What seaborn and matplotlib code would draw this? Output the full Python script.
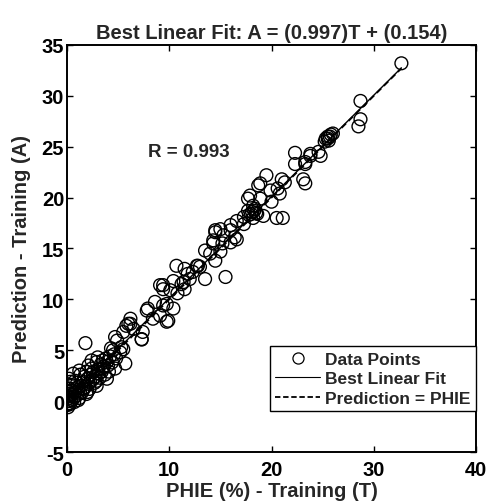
import matplotlib
matplotlib.use("Agg")
import matplotlib.pyplot as plt
import seaborn as sns
import numpy as np
import pandas as pd
from matplotlib.lines import Line2D

# ---- data ----
target_T = [
    32.7, 28.7, 28.7, 28.5,
    25.5, 25.8, 25.3, 26.0, 25.6, 25.2, 25.5, 25.7,
    24.6, 23.8, 23.3, 24.8,
    22.3, 23.8, 22.3, 23.3, 23.1, 23.3,
    19.5, 18.9, 21.0, 21.3, 19.9, 20.6, 20.8,
    17.9, 18.9, 20.0, 18.2, 17.7, 18.1, 18.6, 18.4, 19.2, 20.5, 21.1,
    17.3, 16.6, 17.3, 16.0, 15.0, 14.5, 15.3, 16.6, 14.3, 16.0,
    18.0, 18.3, 18.5, 17.8, 18.2, 18.7, 17.7,
    14.5, 16.0, 16.4, 14.3, 13.5, 15.0, 14.5, 15.5, 12.8, 10.7, 11.5, 12.3, 13.5,
    10.4, 11.4, 9.4, 11.5, 9.4, 10.1, 8.6, 7.9, 9.4, 10.4, 9.75, 9.1, 8.4, 9.9,
    6.2, 5.8, 6.5, 7.4, 5.5,
    12.7, 9.1, 7.8, 9.75, 6.0, 7.3, 4.7, 11.8, 12.0, 13.0, 14.0, 15.2, 10.8, 11.2,
    1.8, 6.2, 7.3, 4.9, 4.5, 5.2, 5.7, 4.7, 3.9, 2.9, 2.4, 3.5, 3.9, 1.9, 0.6, 0.3,
    2.25, 2.9, 1.6, 0.3, 0.0,
    0.1, 0.2, 0.4, 0.5, 0.7, 0.8, 1.0, 1.1, 1.3, 1.4, 1.6, 1.8, 2.0, 2.1, 2.3, 2.5,
    2.6, 2.8, 3.0, 3.1, 3.3, 3.4, 3.6, 3.8, 4.0, 4.2, 4.4, 4.6, 4.1, 0.0, 0.1, 0.2,
    0.3, 0.5, 0.6, 0.9, 1.2, 1.5, 1.7, 2.2, 2.4, 2.7, 3.2, 3.5, 0.0, 0.4, 0.8, 1.0,
    1.3, 2.0, 2.9, 3.7, 4.8, 5.3, 5.5, 0.1, 0.3, 0.7, 1.1, 1.9, 0.2, 1.2, 2.1, 3.0, 4.3,
]
prediction_A = [
    33.2, 29.5, 27.7, 27.0,
    26.0, 26.2, 25.8, 26.3, 25.6, 25.5, 25.8, 26.0,
    24.5, 24.1, 23.5, 24.1,
    24.4, 24.3, 23.3, 23.3, 21.8, 21.4,
    22.2, 21.4, 21.8, 21.5, 20.7, 20.9, 20.4,
    20.2, 19.9, 19.6, 19.2, 18.7, 18.6, 18.4, 18.9, 18.2, 18.0, 18.0,
    18.1, 17.7, 17.4, 17.3, 16.9, 16.8, 16.3, 15.9, 15.8, 15.6,
    18.4, 18.7, 18.5, 18.3, 18.0, 21.2, 19.9,
    16.6, 16.8, 16.1, 15.5, 14.8, 14.7, 13.8, 12.2, 13.3, 13.3, 13.0, 12.7, 12.0,
    11.8, 11.7, 11.4, 11.0, 11.0, 10.9, 9.75, 9.1, 9.4, 9.1, 9.55, 8.4, 8.1, 7.9,
    8.1, 7.4, 7.1, 6.8, 6.8,
    13.3, 11.4, 8.9, 7.8, 7.6, 6.1, 6.3, 12.5, 12.0, 13.2, 14.5, 15.5, 10.6, 11.5,
    5.7, 7.6, 6.05, 5.95, 5.0, 4.8, 3.7, 3.2, 3.85, 3.85, 4.0, 3.2, 2.2, 2.9, 2.7, 1.9,
    1.9, 1.5, 1.2, 0.7, -0.4,
    0.0, 0.3, 0.1, 0.6, 0.4, 0.9, 0.6, 1.1, 0.8, 1.5, 1.9, 1.4, 2.2, 1.7, 2.6, 2.1,
    2.9, 2.4, 3.1, 2.7, 3.6, 2.9, 3.4, 4.2, 3.5, 4.4, 3.8, 4.6, 2.9, 0.2, 0.5, -0.2,
    1.2, 1.0, 0.2, 1.3, 0.3, 0.9, 2.4, 1.2, 3.2, 1.8, 2.3, 4.0, 1.0, 1.6, 2.0, 1.8,
    2.6, 0.9, 2.0, 2.6, 4.2, 5.3, 5.1, -0.6, -0.3, -0.1, 0.1, 0.7, 2.2, 3.0, 3.5, 4.3, 5.2,
]
fit_slope = 0.997
fit_intercept = 0.154
r_value = 0.993
x_ticks = [0, 10, 20, 30, 40]
y_ticks = [-5, 0, 5, 10, 15, 20, 25, 30, 35]

df = pd.DataFrame({"T": target_T, "A": prediction_A})
line_x = np.array([min(target_T), max(target_T)])
lines = pd.DataFrame({
    "T": np.concatenate([line_x, line_x]),
    "A": np.concatenate([fit_slope * line_x + fit_intercept, line_x]),
    "kind": ["fit", "fit", "ident", "ident"],
})

sns.set_theme(style="white")
plt.rcParams["font.family"] = ["Liberation Sans", "DejaVu Sans"]
plt.rcParams["font.weight"] = "bold"

FS = 14.5

fig = plt.figure(figsize=(4.86, 5.02), dpi=100)
ax = fig.add_axes([0.1379, 0.0976, 0.8416, 0.8108])

sns.scatterplot(data=df, x="T", y="A", ax=ax, marker="o", s=85,
                facecolors="none", edgecolor="black", linewidth=1.0,
                legend=False, zorder=2)
sns.lineplot(data=lines[lines.kind == "fit"], x="T", y="A", ax=ax,
             color="black", linewidth=1.0, linestyle="-", legend=False, zorder=3)
sns.lineplot(data=lines[lines.kind == "ident"], x="T", y="A", ax=ax,
             color="black", linewidth=1.3, linestyle=(0, (3.5, 2)), legend=False, zorder=4)

ax.set_xlim(0, 40)
ax.set_ylim(-5, 35)
ax.set_xticks(x_ticks)
ax.set_yticks(y_ticks)
ax.set_xticklabels([str(t) for t in x_ticks], fontsize=FS, fontweight="bold")
ax.set_yticklabels([str(t) for t in y_ticks], fontsize=FS, fontweight="bold")
ax.tick_params(direction="in", length=4, width=1, top=True, right=True,
               bottom=True, left=True, colors="black")
ax.tick_params(axis="x", pad=6)
ax.tick_params(axis="y", pad=2)
for sp in ax.spines.values():
    sp.set_visible(True)
    sp.set_color("black")
    sp.set_linewidth(1.4)

ax.set_xlabel("PHIE (%) - Training (T)", fontsize=FS, fontweight="bold", labelpad=1)
ax.set_ylabel("Prediction - Training (A)", fontsize=FS, fontweight="bold", labelpad=8)
ax.set_title(f"Best Linear Fit: A = ({fit_slope:.3f})T + ({fit_intercept:.3f})",
             fontsize=FS, fontweight="bold", pad=5)

ax.text(7.9, 24.5, f"R = {r_value:.3f}", fontsize=13.5, fontweight="bold",
        ha="left", va="center")

handles = [
    Line2D([], [], marker="o", linestyle="none", markerfacecolor="none",
           markeredgecolor="black", markersize=8, markeredgewidth=0.9),
    Line2D([], [], color="black", linewidth=0.8),
    Line2D([], [], color="black", linewidth=1.3, linestyle=(0, (3, 1.5))),
]
leg = ax.legend(handles, ["Data Points", "Best Linear Fit", "Prediction = PHIE"],
                loc="lower right", bbox_to_anchor=(1.0, 0.1007), borderaxespad=0,
                fancybox=False, framealpha=1, edgecolor="black",
                prop={"size": 12.5, "weight": "bold"}, handlelength=2.6,
                handletextpad=0.3, borderpad=0.3, labelspacing=0.25)
leg.get_frame().set_linewidth(1.0)

fig.savefig("out.png", dpi=100)
